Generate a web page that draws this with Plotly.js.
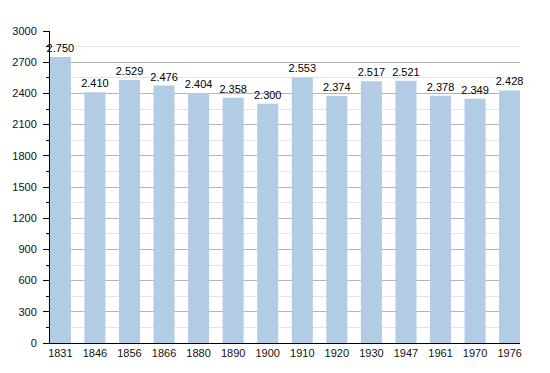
<!DOCTYPE html>
<html>
<head>
<meta charset="utf-8">
<script src="https://cdn.plot.ly/plotly-3.0.1.min.js"></script>
<style>html,body{margin:0;padding:0;background:#fff}#chart{width:550px;height:373px}</style>
</head>
<body>
<div id="chart"></div>
<script>
const years = ['1831','1846','1856','1866','1880','1890','1900','1910','1920','1930','1947','1961','1970','1976'];
const population = [2750,2410,2529,2476,2404,2358,2300,2553,2374,2517,2521,2378,2349,2428];
const yTicks = [0,300,600,900,1200,1500,1800,2100,2400,2700,3000];

const labels = population.map(v => {
  const s = String(v);
  return s.length > 3 ? s.slice(0, s.length - 3) + '.' + s.slice(-3) : s;
});

const trace = {
  type: 'bar',
  x: years,
  y: population,
  text: labels,
  textposition: 'outside',
  constraintext: 'none',
  cliponaxis: false,
  textfont: {family: 'Liberation Sans, Arial, sans-serif', size: 11, color: '#000'},
  marker: {color: '#b3cce5', line: {width: 0}},
  width: 0.61,
  hoverinfo: 'x+y'
};

const layout = {
  width: 550, height: 373,
  margin: {l: 50, r: 30, t: 31, b: 30},
  paper_bgcolor: '#fff', plot_bgcolor: '#fff',
  showlegend: false,
  font: {family: 'Liberation Sans, Arial, sans-serif', size: 11, color: '#111'},
  xaxis: {
    type: 'category',
    range: [-0.3, 13.3],
    showgrid: false,
    showline: true, linecolor: '#000', linewidth: 1,
    ticks: '', ticklen: 0,
    tickfont: {size: 11, color: '#111'},
    fixedrange: true
  },
  yaxis: {
    range: [0, 3000],
    tickmode: 'array',
    tickvals: yTicks,
    ticktext: yTicks.map(String),
    showgrid: true, gridcolor: '#b4b4b4', gridwidth: 1,
    zeroline: false,
    showline: true, linecolor: '#000', linewidth: 1,
    ticks: 'outside', ticklen: 6, tickcolor: '#000', tickwidth: 1,
    ticklabelstandoff: 4,
    tickfont: {size: 11, color: '#111'},
    minor: {dtick: 150, ticks: 'outside', ticklen: 3, tickcolor: '#000', showgrid: true, gridcolor: '#e4e4e4', gridwidth: 1},
    fixedrange: true
  }
};

Plotly.newPlot('chart', [trace], layout, {displayModeBar: false, staticPlot: true});
</script>
</body>
</html>
